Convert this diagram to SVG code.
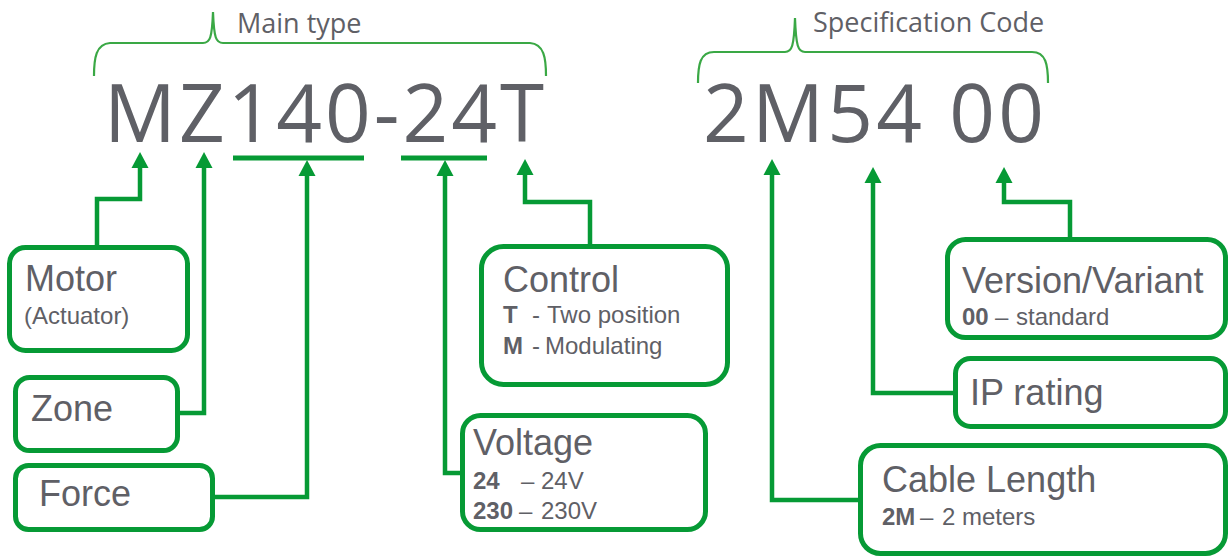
<svg xmlns="http://www.w3.org/2000/svg" width="1229" height="558" viewBox="0 0 1229 558">
<style>
.box{fill:#fff;stroke:#069a35;stroke-width:5}
.con{fill:none;stroke:#069a35;stroke-width:4.5;stroke-linejoin:miter}
.brace{fill:none;stroke:#3aa845;stroke-width:2.2}
.big{font-family:"Open Sans","Liberation Sans",sans-serif;font-size:80px;fill:#5f6066}
.hdr{font-family:"Open Sans","Liberation Sans",sans-serif;font-size:27px;fill:#5f6066}
.lbl{font-family:"Liberation Sans",Arial,sans-serif;font-size:36px;fill:#5f6066}
.sub{font-family:"Liberation Sans",Arial,sans-serif;font-size:24px;fill:#5f6066}
.b{font-weight:bold}
</style>
<defs>
<marker id="ah" markerUnits="userSpaceOnUse" markerWidth="18" markerHeight="18" refX="0" refY="8.5" orient="auto" overflow="visible">
<path d="M0,0 L16,8.5 L0,17 z" fill="#069a35"/>
</marker>
</defs>
<rect width="1229" height="558" fill="#fff"/>

<g id="code-main">
<path class="brace" d="M94,76 C94,58 96,44 110,43 L203,43 C210,43 212,38 213,12 C214,38 216,43 223,43 L530,43 C544,44 546,58 546,76"/>
<text class="hdr" x="237" y="33">Main type</text>
<text class="big" x="104" y="142" textLength="440" lengthAdjust="spacing">MZ140-24T</text>
<line x1="233" y1="158" x2="364" y2="158" stroke="#069a35" stroke-width="5"/>
<line x1="401" y1="158" x2="487" y2="158" stroke="#069a35" stroke-width="5"/>
</g>

<g id="code-spec">
<path class="brace" d="M698,83 C698,65 700,52 714,52 L785,52 C792,52 794,46 795,18 C796,46 798,52 805,52 L1032,52 C1046,52 1048,65 1048,83"/>
<text class="hdr" x="813" y="32">Specification Code</text>
<text class="big" x="703" y="142" textLength="341" lengthAdjust="spacing">2M54 00</text>
</g>

<g id="connectors">
<polyline class="con" marker-end="url(#ah)" points="97,247 97,199 140,199 140,168"/>
<polyline class="con" marker-end="url(#ah)" points="180,413 204,413 204,168"/>
<polyline class="con" marker-end="url(#ah)" points="215,497 307,497 307,176"/>
<polyline class="con" marker-end="url(#ah)" points="460,473 445,473 445,176"/>
<polyline class="con" marker-end="url(#ah)" points="590,244 590,202 525,202 525,175"/>
<polyline class="con" marker-end="url(#ah)" points="858,500 772,500 772,175"/>
<polyline class="con" marker-end="url(#ah)" points="953,393 873,393 873,183"/>
<polyline class="con" marker-end="url(#ah)" points="1070,238 1070,202 1004,202 1004,183"/>
</g>

<g id="motor">
<rect class="box" x="9.5" y="247.5" width="178" height="103" rx="16"/>
<text class="lbl" x="25" y="291">Motor</text>
<text class="sub" x="24" y="324">(Actuator)</text>
</g>

<g id="zone">
<rect class="box" x="15.5" y="377.5" width="162" height="73" rx="14"/>
<text class="lbl" x="31" y="421">Zone</text>
</g>

<g id="force">
<rect class="box" x="15.5" y="465.5" width="197" height="64" rx="13"/>
<text class="lbl" x="39" y="506">Force</text>
</g>

<g id="control">
<rect class="box" x="481.5" y="246.5" width="246" height="138" rx="22"/>
<text class="lbl" x="503" y="292">Control</text>
<text class="sub" y="323"><tspan class="b" x="503">T</tspan><tspan x="532">-</tspan><tspan x="547">Two position</tspan></text>
<text class="sub" y="354"><tspan class="b" x="503">M</tspan><tspan x="532">-</tspan><tspan x="545">Modulating</tspan></text>
</g>

<g id="voltage">
<rect class="box" x="462.5" y="415.5" width="243" height="114" rx="18"/>
<text class="lbl" x="473" y="455">Voltage</text>
<text class="sub" y="489"><tspan class="b" x="473">24</tspan><tspan x="521">–</tspan><tspan x="541">24V</tspan></text>
<text class="sub" y="519"><tspan class="b" x="473">230</tspan><tspan x="519">–</tspan><tspan x="541">230V</tspan></text>
</g>

<g id="version">
<rect class="box" x="947.5" y="239.5" width="278" height="98" rx="18"/>
<text class="lbl" x="962" y="293">Version/Variant</text>
<text class="sub" y="325"><tspan class="b" x="962">00</tspan><tspan x="995">–</tspan><tspan x="1016">standard</tspan></text>
</g>

<g id="ip">
<rect class="box" x="955.5" y="358.5" width="270" height="68" rx="15"/>
<text class="lbl" x="970" y="405">IP rating</text>
</g>

<g id="cable">
<rect class="box" x="860.5" y="445.5" width="365" height="108" rx="20"/>
<text class="lbl" x="882" y="492">Cable Length</text>
<text class="sub" y="525"><tspan class="b" x="882">2M</tspan><tspan x="920">–</tspan><tspan x="942">2 meters</tspan></text>
</g>
</svg>
